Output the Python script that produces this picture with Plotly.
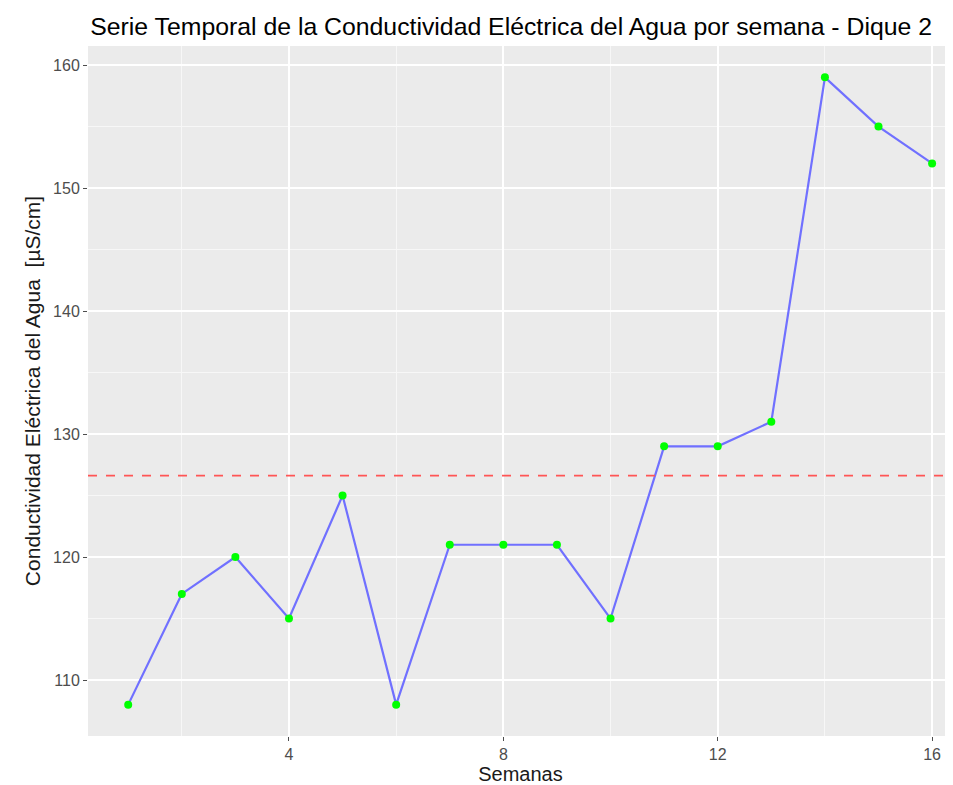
import plotly.graph_objects as go

semanas = list(range(1, 17))
conductividad = [108, 117, 120, 115, 125, 108, 121, 121, 121, 115, 129, 129, 131, 159, 155, 152]
media = sum(conductividad) / len(conductividad)
x_ticks = [4, 8, 12, 16]
y_ticks = [110, 120, 130, 140, 150, 160]

fig = go.Figure()
fig.add_trace(go.Scatter(x=semanas, y=conductividad, mode="lines",
                         line=dict(color="#7070ff", width=2.2), showlegend=False))
fig.add_trace(go.Scatter(x=semanas, y=conductividad, mode="markers",
                         marker=dict(color="#00ff00", size=8), showlegend=False))
fig.add_shape(type="line", xref="paper", x0=0, x1=1, yref="y", y0=media, y1=media,
              line=dict(color="#ff5555", width=1.8, dash="dash"))

fig.update_layout(
    width=945, height=777,
    margin=dict(l=80, r=0, t=38, b=49),
    plot_bgcolor="#ebebeb", paper_bgcolor="white",
    font=dict(family="Liberation Sans, Arial", color="#4d4d4d"),
    title=dict(text="Serie Temporal de la Conductividad Eléctrica del Agua por semana - Dique 2",
               x=0.087, xanchor="left", y=0.977, yanchor="middle",
               font=dict(size=24.8, color="black")),
    xaxis=dict(range=[0.25, 16.39], tickvals=x_ticks, showgrid=True, gridcolor="white",
               gridwidth=1.8, zeroline=False, ticks="outside", ticklen=4, tickcolor="#4d4d4d",
               tickfont=dict(size=16, color="#4d4d4d"),
               minor=dict(tickvals=[2, 6, 10, 14], showgrid=True, gridcolor="#f7f7f7", gridwidth=0.9),
               title=dict(text="Semanas", font=dict(size=20, color="#1a1a1a"), standoff=2)),
    yaxis=dict(range=[105.45, 161.55], tickvals=y_ticks, showgrid=True, gridcolor="white",
               gridwidth=1.8, zeroline=False, ticks="outside", ticklen=4, tickcolor="#4d4d4d",
               tickfont=dict(size=16, color="#4d4d4d"),
               minor=dict(tickvals=[105, 115, 125, 135, 145, 155], showgrid=True,
                          gridcolor="#f7f7f7", gridwidth=0.9),
               title=dict(text="Conductividad Eléctrica del Agua  [µS/cm]",
                          font=dict(size=21, color="#1a1a1a"), standoff=6)),
)
fig.write_html("out.html")
